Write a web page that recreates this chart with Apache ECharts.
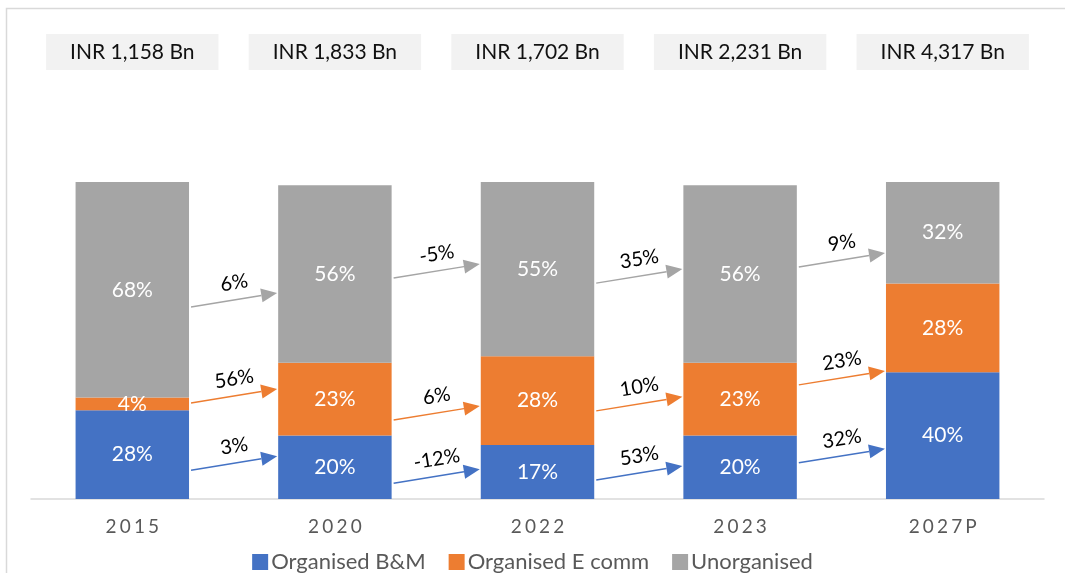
<!DOCTYPE html>
<html>
<head>
	<meta charset="utf-8">
	<title>Market split</title>
	<script src="https://cdn.jsdelivr.net/npm/echarts@6/dist/echarts.min.js"></script>
	<style>
		html, body { margin: 0; padding: 0; background: #fff; }
		#chart { width: 1065px; height: 573px; }
	</style>
</head>
<body>
	<div id="chart"></div>
	<script type="text/javascript">
	var years = ['2015', '2020', '2022', '2023', '2027P'];
	var totalsBn = [1158, 1833, 1702, 2231, 4317];
	var bmShare = [28, 20, 17, 20, 40];
	var ecomShare = [4, 23, 28, 23, 28];
	var unorgShare = [68, 56, 55, 56, 32];
	// growth between consecutive years
	var bmGrowth = [3, -12, 53, 32];
	var ecomGrowth = [56, 6, 10, 23];
	var unorgGrowth = [6, -5, 35, 9];

	// where each arrow starts, in axis percent (layout only)
	var bmArrowAt = [9.1, 5.0, 6.0, 11.4];
	var ecomArrowAt = [30.3, 24.9, 27.8, 36.0];
	var unorgArrowAt = [60.6, 69.7, 68.1, 73.2];

	var BLUE = '#4472c4', ORANGE = '#ed7d31', GRAY = '#a5a5a5';
	var FONT = 'Lato, "Noto Sans", sans-serif';
	var barShare = 0.56;
	var rise = 14;

	var myChart = echarts.init(document.getElementById('chart'));

	function arrowRender(color) {
		return function (params, api) {
			var i = api.value(0);
			var bw = api.size([1, 0])[0] * barShare;
			var p0 = api.coord([i, api.value(1)]);
			var p1 = api.coord([i + 1, api.value(1)]);
			var x0 = p0[0] + bw / 2 + 2, y0 = p0[1];
			var x1 = p1[0] - bw / 2 - 1, y1 = y0 - rise;
			var ang = Math.atan2(y0 - y1, x1 - x0);
			var ux = Math.cos(ang), uy = -Math.sin(ang);
			var L = 16, W = 7;
			var bx = x1 - ux * L, by = y1 - uy * L;
			var g = api.value(2);
			return {
				type: 'group',
				children: [{
					type: 'line',
					shape: { x1: x0, y1: y0, x2: bx, y2: by },
					style: { stroke: color, lineWidth: 1.5 }
				}, {
					type: 'polygon',
					shape: { points: [[x1, y1], [bx - uy * W, by + ux * W], [bx + uy * W, by - ux * W]] },
					style: { fill: color }
				}, {
					type: 'text',
					x: (x0 + x1) / 2,
					y: (y0 + y1) / 2 - 17,
					rotation: ang,
					style: {
						text: g + '%',
						x: 0, y: 0,
						align: 'center',
						verticalAlign: 'middle',
						fill: '#000',
						font: '20px ' + FONT
					}
				}]
			};
		};
	}

	function arrowSeries(name, growth, levels, color) {
		var data = [];
		for (var i = 0; i < growth.length; i++) {
			data.push([i, levels[i], growth[i]]);
		}
		return {
			name: name,
			type: 'custom',
			coordinateSystem: 'cartesian2d',
			xAxisIndex: 0,
			z: 5,
			silent: true,
			encode: { x: 0, y: 1 },
			renderItem: arrowRender(color),
			data: data
		};
	}

	function barSeries(name, values, color) {
		return {
			name: name,
			type: 'bar',
			stack: 'share',
			barCategoryGap: '44%',
			xAxisIndex: 0,
			itemStyle: { color: color },
			label: {
				show: true,
				position: 'inside',
				formatter: '{c}%',
				color: '#fff',
				fontSize: 21,
				fontFamily: FONT
			},
			data: values
		};
	}

	var option = {
		backgroundColor: '#fff',
		animation: false,
		graphic: [{
			type: 'rect',
			shape: { x: 6.5, y: 8.5, width: 1200, height: 700 },
			style: { fill: 'none', stroke: '#d9d9d9', lineWidth: 1.5 },
			silent: true
		}],
		grid: { left: 31, right: 21, top: 182, bottom: 74 },
		legend: {
			data: ['Organised B&M', 'Organised E comm', 'Unorganised'],
			top: 546,
			left: 'center',
			icon: 'rect',
			itemWidth: 16,
			itemHeight: 16,
			itemGap: 23,
			textStyle: { color: '#595959', fontSize: 22, fontFamily: FONT, padding: [0, 0, 0, -2] }
		},
		xAxis: [{
			type: 'category',
			data: years,
			axisLine: { lineStyle: { color: '#d9d9d9', width: 1.5 } },
			axisTick: { show: false },
			axisLabel: {
				color: '#595959',
				fontSize: 19,
				fontFamily: FONT,
				margin: 18,
				formatter: function (v) { return v.split('').join('\u2006'); }
			}
		}, {
			type: 'category',
			position: 'top',
			data: years,
			axisLine: { show: false },
			axisTick: { show: false },
			axisLabel: {
				interval: 0,
				margin: 112,
				color: '#111',
				fontSize: 21,
				fontFamily: FONT,
				lineHeight: 24,
				backgroundColor: '#f2f2f2',
				padding: [6, 24],
				formatter: function (v, idx) {
					return 'INR ' + totalsBn[idx].toLocaleString('en-US') + ' Bn';
				}
			}
		}],
		yAxis: {
			type: 'value',
			min: 0,
			max: 100,
			show: false,
			splitLine: { show: false }
		},
		series: [
			barSeries('Organised B&M', bmShare, BLUE),
			barSeries('Organised E comm', ecomShare, ORANGE),
			barSeries('Unorganised', unorgShare, GRAY),
			arrowSeries('B&M growth', bmGrowth, bmArrowAt, BLUE),
			arrowSeries('E comm growth', ecomGrowth, ecomArrowAt, ORANGE),
			arrowSeries('Unorganised growth', unorgGrowth, unorgArrowAt, GRAY)
		]
	};
	myChart.setOption(option);
	</script>
</body>
</html>
